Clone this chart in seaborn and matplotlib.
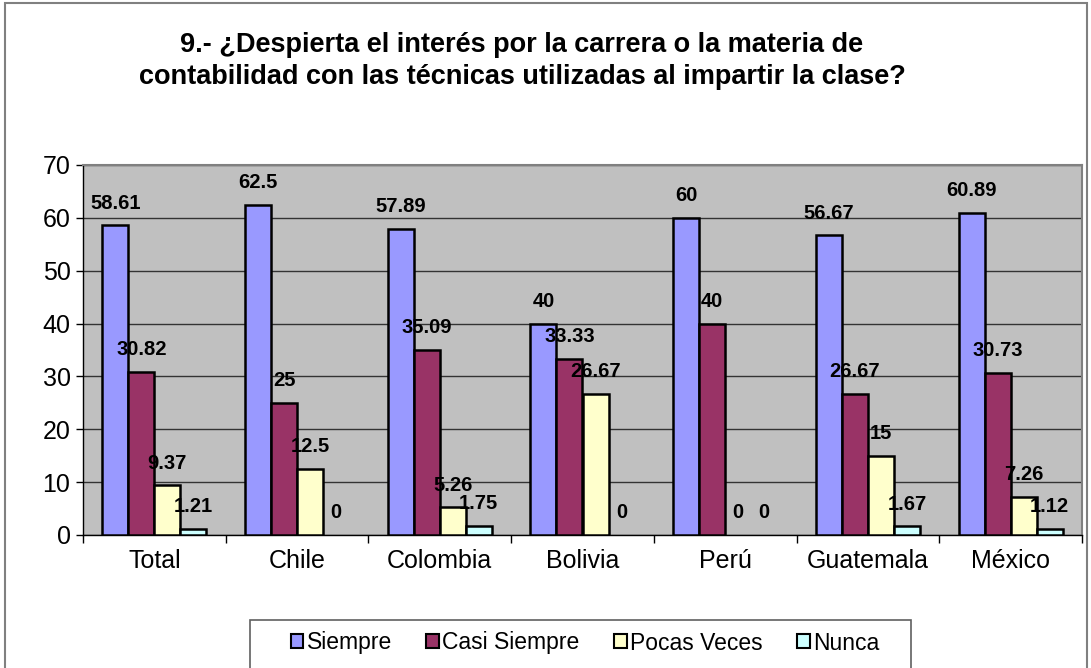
import matplotlib
matplotlib.use("Agg")
import matplotlib.pyplot as plt
import seaborn as sns
import pandas as pd
from matplotlib.patches import Rectangle

paises = ["Total", "Chile", "Colombia", "Bolivia", "Perú", "Guatemala", "México"]
series = ["Siempre", "Casi Siempre", "Pocas Veces", "Nunca"]
siempre = [58.61, 62.5, 57.89, 40, 60, 56.67, 60.89]
casi_siempre = [30.82, 25, 35.09, 33.33, 40, 26.67, 30.73]
pocas_veces = [9.37, 12.5, 5.26, 26.67, 0, 15, 7.26]
nunca = [1.21, 0, 1.75, 0, 0, 1.67, 1.12]
colores = ["#9999FF", "#993366", "#FFFFCC", "#CCFFFF"]
titulo = ("9.- ¿Despierta el interés por la carrera o la materia de\n"
          "contabilidad con las técnicas utilizadas al impartir la clase?")

valores = [siempre, casi_siempre, pocas_veces, nunca]
df = pd.DataFrame({
    "pais": paises * 4,
    "serie": [s for s in series for _ in paises],
    "valor": [v for vals in valores for v in vals],
})

sns.set_style("white")
plt.rcParams["font.family"] = ["Liberation Sans", "DejaVu Sans"]
plt.rcParams["text.color"] = "black"
plt.rcParams["xtick.color"] = "black"
plt.rcParams["ytick.color"] = "black"

fig = plt.figure(figsize=(10.91, 6.68), dpi=100)
ax = fig.add_axes([83 / 1091, 1 - 535 / 668, (1082 - 83) / 1091, (535 - 165) / 668])
ax.set_facecolor("#C0C0C0")

sns.barplot(data=df, x="pais", y="valor", hue="serie", hue_order=series,
            order=paises, palette=colores, width=0.73, edgecolor="black",
            linewidth=1.8, saturation=1, ax=ax, legend=True, zorder=3)

ax.set_ylim(0, 70)
ax.set_xlim(-0.5, 6.5)
ax.set_yticks(range(0, 71, 10))
ax.yaxis.grid(True, color="#333333", linewidth=1, zorder=0)
ax.set_axisbelow(True)
ax.tick_params(axis="y", labelsize=18, length=5, width=1, direction="out", left=True, pad=4)

ax.set_xticks([i - 0.5 for i in range(8)])
ax.set_xticklabels([])
ax.set_xticks(range(7), minor=True)
ax.set_xticklabels(paises, minor=True, fontsize=18)
ax.tick_params(axis="x", which="major", length=6, width=1, direction="out", bottom=True)
ax.tick_params(axis="x", which="minor", length=0, pad=10)
ax.set_xlabel("")
ax.set_ylabel("")

for lado in ["left", "bottom"]:
    ax.spines[lado].set_color("black")
    ax.spines[lado].set_linewidth(1)
for lado in ["top", "right"]:
    ax.spines[lado].set_color("#808080")
    ax.spines[lado].set_linewidth(1.5)

for cont in ax.containers:
    for barra in cont:
        h = barra.get_height()
        if h == 0:
            barra.set_visible(False)
        ax.annotate(f"{h:g}", (barra.get_x() + barra.get_width() / 2, h),
                    xytext=(0, 12), textcoords="offset points",
                    ha="center", va="baseline", fontsize=14.5,
                    fontweight="bold", zorder=5)

leg = ax.legend(loc="center", bbox_to_anchor=(585 / 1091, 1 - 643 / 668),
                bbox_transform=fig.transFigure, ncol=4, frameon=False,
                fontsize=16.5, handlelength=0.55, handleheight=0.55,
                handletextpad=0.15, columnspacing=1.5, borderpad=0.3)
for h in leg.legend_handles:
    h.set_edgecolor("black")
    h.set_linewidth(1.5)

# marco de la leyenda (se corta por abajo, como en el original)
fig.patches.append(Rectangle((250 / 1091, -0.02), 661 / 1091, 1 - 620 / 668 + 0.02,
                             transform=fig.transFigure, fill=False,
                             edgecolor="#606060", linewidth=1.2))

fig.text(522 / 1091, 1 - 61 / 668, titulo, ha="center", va="center",
         fontsize=19.5, fontweight="bold", linespacing=1.3)

fig.patches.append(Rectangle((5 / 1091, -0.01), 1082 / 1091, 1 - 3 / 668 + 0.01,
                             transform=fig.transFigure, fill=False,
                             edgecolor="#808080", linewidth=1.5))

fig.savefig("out.png", dpi=100, facecolor="white")
